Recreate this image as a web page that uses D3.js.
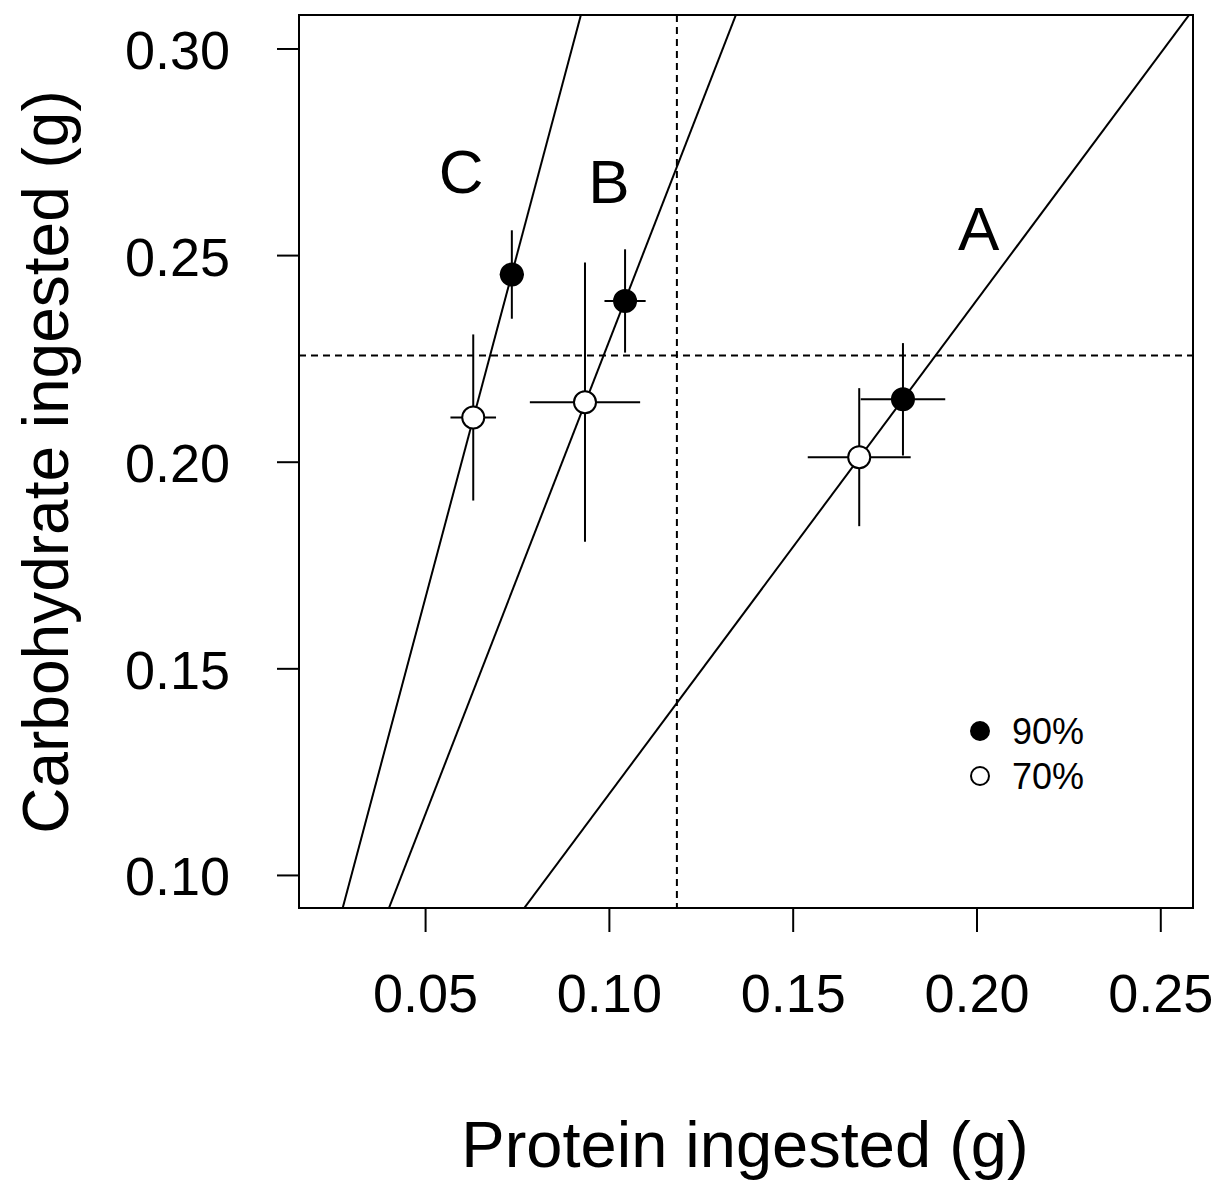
<!DOCTYPE html>
<html lang="en">
<head>
    <meta charset="UTF-8">
    <title>intake</title>
    <script src="https://d3js.org/d3.v7.min.js"></script>
    <style>
        body { margin: 0; background: #fff; }
        text { font-family: "Liberation Sans", Arial, Helvetica, sans-serif; fill: #000; }
    </style>
</head>
<body>
<script>
    // data
    const treatments = ['A', 'B', 'C']
    const railSlopes = [1.195, 2.29, 3.335]
    const protein90 = [0.1800, 0.1044, 0.0736]
    const carb90 = [0.2151, 0.2389, 0.2453]
    const proteinSe90 = [0.0115, 0.0056, 0.0033]
    const carbSe90 = [0.0136, 0.0125, 0.0107]
    const protein70 = [0.1681, 0.0935, 0.0631]
    const carb70 = [0.2011, 0.2144, 0.2107]
    const proteinSe70 = [0.0140, 0.0150, 0.0062]
    const carbSe70 = [0.0167, 0.0338, 0.0201]
    const refProtein = 0.1185
    const refCarb = 0.2257
    const xTicks = [0.05, 0.10, 0.15, 0.20, 0.25]
    const yTicks = [0.10, 0.15, 0.20, 0.25, 0.30]
    const legendLabels = ['90%', '70%']

    // label anchors in data units
    const labelX = [0.2006, 0.1000, 0.0598]
    const labelY = [0.2512, 0.2627, 0.2650]

    const width = 1219
    const height = 1183
    const plotL = 299, plotR = 1193, plotT = 15, plotB = 908

    const xScale = d3.scaleLinear().domain([0.0157, 0.2589]).range([plotL, plotR])
    const yScale = d3.scaleLinear().domain([0.092, 0.3081]).range([plotB, plotT])

    const svg = d3.select('body').append('svg')
        .attr('width', width)
        .attr('height', height)

    svg.append('clipPath').attr('id', 'plotclip')
        .append('rect')
        .attr('x', plotL).attr('y', plotT)
        .attr('width', plotR - plotL).attr('height', plotB - plotT)

    const plot = svg.append('g').attr('clip-path', 'url(#plotclip)')

    // rails through the origin
    const xd = xScale.domain()
    plot.selectAll('.rail')
        .data(railSlopes)
        .enter()
        .append('line')
        .attr('class', 'rail')
        .attr('x1', xScale(xd[0]))
        .attr('y1', d => yScale(d * xd[0]))
        .attr('x2', xScale(xd[1]))
        .attr('y2', d => yScale(d * xd[1]))
        .attr('stroke', '#000')
        .attr('stroke-width', 2)

    // dashed reference lines
    plot.append('line')
        .attr('x1', xScale(refProtein)).attr('x2', xScale(refProtein))
        .attr('y1', plotT).attr('y2', plotB)
        .attr('stroke', '#000').attr('stroke-width', 2)
        .attr('stroke-dasharray', '7,5')
    plot.append('line')
        .attr('x1', plotL).attr('x2', plotR)
        .attr('y1', yScale(refCarb)).attr('y2', yScale(refCarb))
        .attr('stroke', '#000').attr('stroke-width', 2)
        .attr('stroke-dasharray', '7,5')

    const points = []
    treatments.forEach(function (t, i) {
        points.push({p: protein90[i], c: carb90[i], sp: proteinSe90[i], sc: carbSe90[i], fill: '#000'})
        points.push({p: protein70[i], c: carb70[i], sp: proteinSe70[i], sc: carbSe70[i], fill: '#fff'})
    })

    // error bars
    plot.selectAll('.ebx')
        .data(points)
        .enter()
        .append('line')
        .attr('x1', d => xScale(d.p - d.sp))
        .attr('x2', d => xScale(d.p + d.sp))
        .attr('y1', d => yScale(d.c))
        .attr('y2', d => yScale(d.c))
        .attr('stroke', '#000').attr('stroke-width', 2)
    plot.selectAll('.eby')
        .data(points)
        .enter()
        .append('line')
        .attr('x1', d => xScale(d.p))
        .attr('x2', d => xScale(d.p))
        .attr('y1', d => yScale(d.c - d.sc))
        .attr('y2', d => yScale(d.c + d.sc))
        .attr('stroke', '#000').attr('stroke-width', 2)

    plot.selectAll('circle')
        .data(points)
        .enter()
        .append('circle')
        .attr('cx', d => xScale(d.p))
        .attr('cy', d => yScale(d.c))
        .attr('r', 11)
        .attr('fill', d => d.fill)
        .attr('stroke', '#000')
        .attr('stroke-width', 2)

    // rail letters
    svg.selectAll('.rlabel')
        .data(treatments)
        .enter()
        .append('text')
        .attr('x', (d, i) => xScale(labelX[i]))
        .attr('y', (d, i) => yScale(labelY[i]))
        .attr('text-anchor', 'middle')
        .attr('font-size', 62)
        .text(d => d)

    // box
    svg.append('rect')
        .attr('x', plotL).attr('y', plotT)
        .attr('width', plotR - plotL).attr('height', plotB - plotT)
        .attr('fill', 'none').attr('stroke', '#000').attr('stroke-width', 2)

    // axes
    const xAxis = d3.axisBottom(xScale)
        .tickValues(xTicks)
        .tickSize(24)
        .tickFormat(d3.format('.2f'))
    const gx = svg.append('g')
        .attr('transform', 'translate(0,' + plotB + ')')
        .call(xAxis)
    gx.select('.domain').remove()
    gx.selectAll('line').attr('stroke-width', 2)
    gx.selectAll('text')
        .attr('y', 104).attr('dy', 0)
        .attr('font-size', 54)
        .attr('font-family', '"Liberation Sans", Arial, sans-serif')

    const yAxis = d3.axisLeft(yScale)
        .tickValues(yTicks)
        .tickSize(22)
        .tickFormat(d3.format('.2f'))
    const gy = svg.append('g')
        .attr('transform', 'translate(' + plotL + ',0)')
        .call(yAxis)
    gy.select('.domain').remove()
    gy.selectAll('line').attr('stroke-width', 2)
    gy.selectAll('text')
        .attr('x', -69).attr('dy', '0.37em')
        .attr('font-size', 54)
        .attr('font-family', '"Liberation Sans", Arial, sans-serif')

    // axis titles
    svg.append('text')
        .attr('x', 745)
        .attr('y', 1167)
        .attr('text-anchor', 'middle')
        .attr('font-size', 65)
        .text('Protein ingested (g)')
    svg.append('text')
        .attr('transform', 'translate(68,462) rotate(-90)')
        .attr('text-anchor', 'middle')
        .attr('font-size', 64)
        .text('Carbohydrate ingested (g)')

    // legend
    const legend = svg.selectAll('.leg')
        .data(legendLabels)
        .enter()
        .append('g')
        .attr('transform', (d, i) => 'translate(980,' + (731 + i * 45) + ')')
    legend.append('circle')
        .attr('r', 9)
        .attr('fill', (d, i) => i === 0 ? '#000' : '#fff')
        .attr('stroke', '#000')
        .attr('stroke-width', 2)
    legend.append('text')
        .attr('x', 32)
        .attr('y', 13)
        .attr('font-size', 36)
        .text(d => d)
</script>
</body>
</html>
